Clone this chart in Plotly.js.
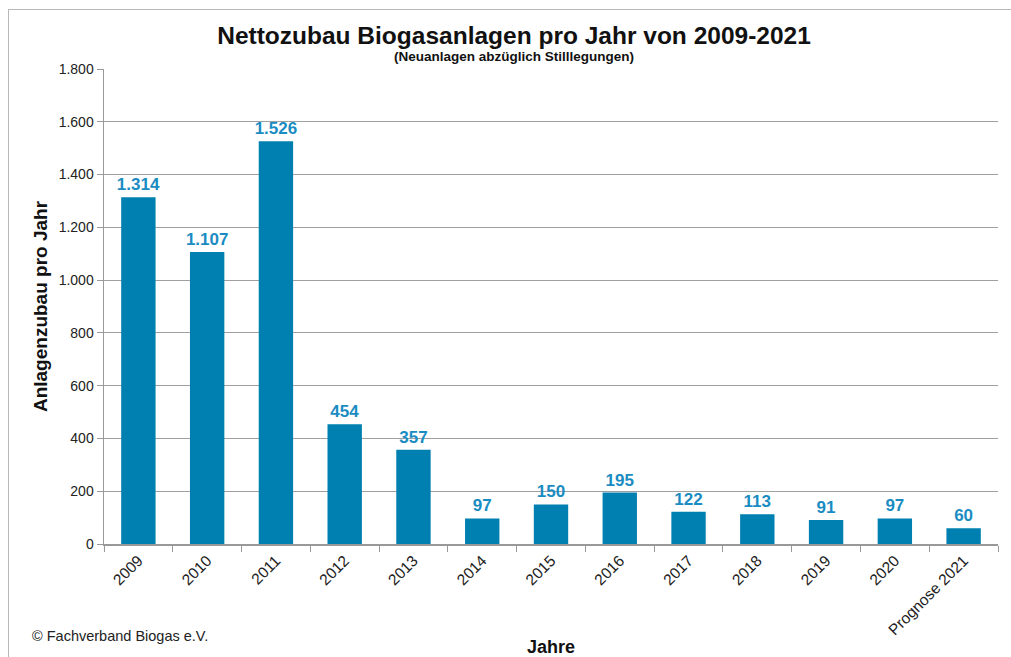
<!DOCTYPE html>
<html><head><meta charset="utf-8">
<script src="https://cdn.plot.ly/plotly-3.0.1.min.js"></script>
<style>html,body{margin:0;padding:0;background:#fff;}#wrap{position:relative;width:1011px;height:657px;}
#frame{position:absolute;left:8px;top:9px;width:1010px;height:660px;border:1.5px solid #b8b8b8;pointer-events:none;}
#chart{position:absolute;left:0;top:0;width:1011px;height:657px;}</style>
</head><body>
<div id="wrap"><div id="chart"></div><div id="frame"></div></div>
<script>
const categories = ["2009","2010","2011","2012","2013","2014","2015","2016","2017","2018","2019","2020","Prognose 2021"];
const values = [1314,1107,1526,454,357,97,150,195,122,113,91,97,60];
const yTicks = [0,200,400,600,800,1000,1200,1400,1600,1800];

const trace = {
  type: 'bar', x: categories, y: values,
  marker: {color: '#0080b0'},
  width: 0.5,
  text: values.map(v => v.toLocaleString('de-DE')),
  textposition: 'outside',
  constraintext: 'none',
  textfont: {family: 'Liberation Sans, Arial, sans-serif', size: 17, color: '#1a8cc2', weight: 'bold'},
  cliponaxis: false,
  hoverinfo: 'skip'
};
const layout = {
  width: 1011, height: 657,
  margin: {l: 104, r: 13, t: 69, b: 113},
  separators: ',.',
  paper_bgcolor: 'rgba(0,0,0,0)', plot_bgcolor: '#fff',
  font: {family: 'Liberation Sans, Arial, sans-serif', color: '#222'},
  showlegend: false,
  title: {text: '<b>Nettozubau Biogasanlagen pro Jahr von 2009-2021</b>', x: 514/1011, xanchor: 'center', y: 1-35/657, yanchor: 'middle', font: {size: 24.5, color: '#111'}},
  xaxis: {
    type: 'category', tickangle: -45, tickfont: {size: 15.5, color: '#222'},
    showline: true, linecolor: '#999', linewidth: 1.5,
    ticks: 'outside', tickson: 'boundaries', ticklen: 6, tickcolor: '#999',
    showgrid: false,
    title: {text: '<b>Jahre</b>', font: {size: 18, color: '#111'}, standoff: 8}
  },
  yaxis: {
    range: [0, 1800], tickvals: yTicks, tickformat: ',d',
    tickfont: {size: 14, color: '#222'},
    showline: true, linecolor: '#999', linewidth: 1.5,
    ticks: 'outside', ticklen: 6, tickcolor: '#999',
    gridcolor: '#a0a0a0', gridwidth: 1.2, zeroline: false,
    title: {text: '<b>Anlagenzubau pro Jahr</b>', font: {size: 19, color: '#111'}, standoff: 6}
  },
  annotations: [
    {text: '<b>(Neuanlagen abzüglich Stilllegungen)</b>', xref: 'paper', yref: 'paper', x: (514-104)/894, y: (544-57)/475, xanchor: 'center', yanchor: 'middle', showarrow: false, font: {size: 13.5, color: '#111'}},
    {text: '© Fachverband Biogas e.V.', xref: 'paper', yref: 'paper', x: (30-104)/894, y: (544-636)/475, xanchor: 'left', yanchor: 'middle', showarrow: false, font: {size: 14.5, color: '#222'}}
  ]
};
Plotly.newPlot('chart', [trace], layout, {displayModeBar: false, staticPlot: true});
</script>
</body></html>
